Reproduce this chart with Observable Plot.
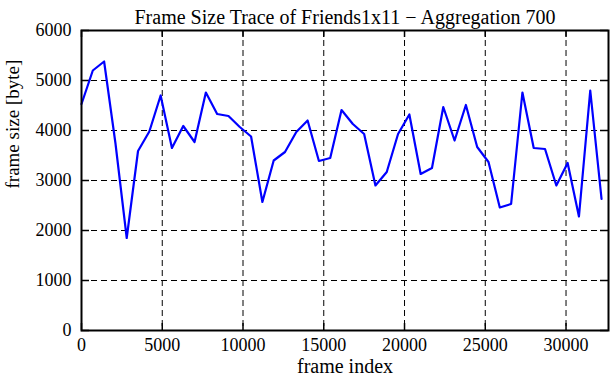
<!DOCTYPE html>
<html>
<head>
<meta charset="utf-8">
<script src="https://cdn.jsdelivr.net/npm/d3@7"></script>
<script src="https://cdn.jsdelivr.net/npm/@observablehq/plot@0.6"></script>
<style>
  html, body { margin: 0; padding: 0; background: white; }
</style>
</head>
<body>
<div id="chart"></div>
<script>
const titleText = "Frame Size Trace of Friends1x11 \u2212 Aggregation 700";
const xLabel = "frame index";
const yLabel = "frame size [byte]";

const frameIndex = [0, 700, 1400, 2100, 2800, 3500, 4200, 4900, 5600, 6300, 7000, 7700, 8400, 9100, 9800, 10500,
  11200, 11900, 12600, 13300, 14000, 14700, 15400, 16100, 16800, 17500, 18200, 18900, 19600, 20300, 21000,
  21700, 22400, 23100, 23800, 24500, 25200, 25900, 26600, 27300, 28000, 28700, 29400, 30100, 30800, 31500, 32200];

const frameSize = [4530, 5200, 5380, 3750, 1850, 3590, 3980, 4700, 3650, 4090, 3770, 4760, 4330, 4290, 4070, 3880,
  2570, 3400, 3570, 3970, 4200, 3390, 3450, 4410, 4130, 3930, 2900, 3170, 3930, 4320, 3130,
  3250, 4470, 3800, 4510, 3670, 3370, 2460, 2530, 4760, 3650, 3630, 2900, 3350, 2280, 4800, 2630];

const xTicks = [0, 5000, 10000, 15000, 20000, 25000, 30000];
const yTicks = [0, 1000, 2000, 3000, 4000, 5000, 6000];

const points = frameIndex.map((f, i) => ({frame: f, size: frameSize[i]}));

const W = 611, H = 380, mL = 81, mR = 3, mT = 30, mB = 50;
const innerW = W - mL - mR, innerH = H - mT - mB;
const tick = 7;

const chart = Plot.plot({
  width: W, height: H,
  marginLeft: mL, marginRight: mR, marginTop: mT, marginBottom: mB,
  style: {fontFamily: "'Liberation Serif', 'DejaVu Serif', serif", fontSize: "18px", background: "white", color: "black"},
  x: {domain: [0, 32630], label: null},
  y: {domain: [0, 6000], label: null},
  marks: [
    Plot.gridX(xTicks, {stroke: "black", strokeOpacity: 1, strokeWidth: 1, strokeDasharray: "6,4"}),
    Plot.gridY(yTicks, {stroke: "black", strokeOpacity: 1, strokeWidth: 1, strokeDasharray: "6,4"}),
    Plot.ruleX(xTicks, {x: d => d, insetTop: innerH - tick, stroke: "black", strokeWidth: 1.5}),
    Plot.ruleX(xTicks, {x: d => d, insetBottom: innerH - tick, stroke: "black", strokeWidth: 1.5}),
    Plot.ruleY(yTicks, {y: d => d, insetRight: innerW - tick - 1, stroke: "black", strokeWidth: 1.5}),
    Plot.ruleY(yTicks, {y: d => d, insetLeft: innerW - tick - 1, stroke: "black", strokeWidth: 1.5}),
    Plot.line(points, {x: "frame", y: "size", stroke: "#0000ff", strokeWidth: 2.2}),
    Plot.frame({stroke: "black", strokeWidth: 2}),
    Plot.axisX(xTicks, {tickSize: 0, tickPadding: 8, tickFormat: "d", fontSize: 18}),
    Plot.axisY(yTicks, {tickSize: 0, tickPadding: 10, tickFormat: "d", fontSize: 18}),
    Plot.text([titleText], {text: d => d, frameAnchor: "top", dy: -21, fontSize: 20}),
    Plot.text([xLabel], {text: d => d, frameAnchor: "bottom", dy: 42, fontSize: 20}),
    Plot.text([yLabel], {text: d => d, frameAnchor: "left", dx: -69, dy: 8, rotate: -90, fontSize: 19})
  ]
});
document.getElementById("chart").appendChild(chart);
</script>
</body>
</html>
